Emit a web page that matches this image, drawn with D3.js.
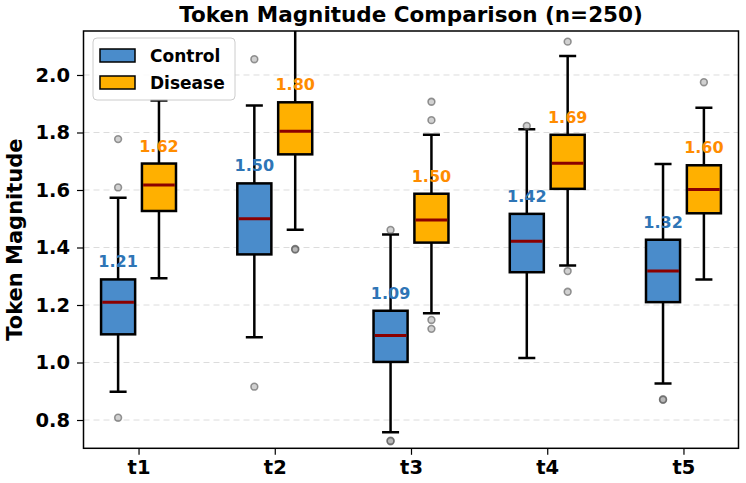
<!DOCTYPE html>
<html>
<head>
<meta charset="utf-8">
<script src="https://cdn.jsdelivr.net/npm/d3@7"></script>
<style>
  html, body { margin: 0; padding: 0; background: #fff; }
  svg { display: block; font-family: "DejaVu Sans", sans-serif; }
</style>
</head>
<body>
<svg id="chart" width="746" height="483"></svg>
<script>
// ---------- data ----------
const categories = ["t1", "t2", "t3", "t4", "t5"];
const seriesNames = ["Control", "Disease"];

const controlWhiskerLow  = [0.898, 1.088, 0.757, 1.016, 0.927];
const controlQ1          = [1.098, 1.376, 1.002, 1.314, 1.210];
const controlMedian      = [1.210, 1.500, 1.094, 1.422, 1.318];
const controlQ3          = [1.289, 1.623, 1.180, 1.517, 1.427];
const controlWhiskerHigh = [1.573, 1.894, 1.445, 1.811, 1.690];
const controlOutliers    = [[0.808, 1.609, 1.777], [0.916, 2.055], [0.726, 0.728, 1.461], [1.823], [0.870, 0.872]];

const diseaseWhiskerLow  = [1.293, 1.462, 1.171, 1.337, 1.289];
const diseaseQ1          = [1.527, 1.724, 1.417, 1.604, 1.519];
const diseaseMedian      = [1.617, 1.804, 1.496, 1.693, 1.602];
const diseaseQ3          = [1.692, 1.905, 1.587, 1.792, 1.686];
const diseaseWhiskerHigh = [1.911, 2.230, 1.792, 2.066, 1.886];
const diseaseOutliers    = [[], [1.395, 1.393], [1.117, 1.148, 1.843, 1.907], [1.246, 1.318, 2.116], [1.975]];

const yTicks = [0.8, 1.0, 1.2, 1.4, 1.6, 1.8, 2.0];

// ---------- layout ----------
const W = 746, H = 483;
const plot = { left: 83.5, right: 738.5, top: 31, bottom: 448.3 };
const FONT = "DejaVu Sans, sans-serif";

const x = d3.scaleLinear().domain([-0.404, 4.404]).range([plot.left, plot.right]);
const y = d3.scaleLinear().domain([0.7016, 2.153]).range([plot.bottom, plot.top]);

const offset = 0.15, boxW = 0.25, capW = 0.125;

const series = [
  { name: seriesNames[0], fill: "#4a8ccb", label: "#2e75b6",
    lo: controlWhiskerLow, q1: controlQ1, med: controlMedian, q3: controlQ3, hi: controlWhiskerHigh, out: controlOutliers, dx: -offset },
  { name: seriesNames[1], fill: "#ffb000", label: "#ff8c00",
    lo: diseaseWhiskerLow, q1: diseaseQ1, med: diseaseMedian, q3: diseaseQ3, hi: diseaseWhiskerHigh, out: diseaseOutliers, dx: offset }
];

const svg = d3.select("#chart");
svg.append("rect").attr("width", W).attr("height", H).attr("fill", "#fff");

svg.append("defs").append("clipPath").attr("id", "clip")
  .append("rect").attr("x", plot.left).attr("y", plot.top)
  .attr("width", plot.right - plot.left).attr("height", plot.bottom - plot.top);

// grid
svg.append("g").selectAll("line").data(yTicks).join("line")
  .attr("x1", plot.left).attr("x2", plot.right)
  .attr("y1", d => y(d)).attr("y2", d => y(d))
  .attr("stroke", "#dcdcdc").attr("stroke-width", 1).attr("stroke-dasharray", "6,4");

const g = svg.append("g").attr("clip-path", "url(#clip)");

series.forEach(s => {
  const sg = g.append("g");
  categories.forEach((c, i) => {
    const cx = x(i + s.dx);
    const bx0 = x(i + s.dx - boxW / 2), bx1 = x(i + s.dx + boxW / 2);
    const cx0 = x(i + s.dx - capW / 2), cx1 = x(i + s.dx + capW / 2);
    const line = (x1, y1, x2, y2) => sg.append("line")
      .attr("x1", x1).attr("y1", y1).attr("x2", x2).attr("y2", y2)
      .attr("stroke", "#000").attr("stroke-width", 2.5);
    line(cx, y(s.q1[i]), cx, y(s.lo[i]));
    line(cx, y(s.q3[i]), cx, y(s.hi[i]));
    line(cx0, y(s.lo[i]), cx1, y(s.lo[i]));
    line(cx0, y(s.hi[i]), cx1, y(s.hi[i]));
    sg.append("rect").attr("x", bx0).attr("width", bx1 - bx0)
      .attr("y", y(s.q3[i])).attr("height", y(s.q1[i]) - y(s.q3[i]))
      .attr("fill", s.fill).attr("stroke", "#000").attr("stroke-width", 2.5);
    sg.append("line").attr("x1", bx0 + 1.2).attr("x2", bx1 - 1.2)
      .attr("y1", y(s.med[i])).attr("y2", y(s.med[i]))
      .attr("stroke", "#8b0000").attr("stroke-width", 3);
    s.out[i].forEach(v => {
      sg.append("circle").attr("cx", cx).attr("cy", y(v)).attr("r", 3.4)
        .attr("fill", "#999").attr("fill-opacity", 0.45)
        .attr("stroke", "#555").attr("stroke-opacity", 0.6).attr("stroke-width", 1.6);
    });
    // median label
    svg.append("text").attr("x", cx).attr("y", y(s.q3[i]) - 12)
      .attr("text-anchor", "middle").attr("font-family", FONT).attr("font-weight", "bold")
      .attr("font-size", 16).attr("fill", s.label)
      .text(s.med[i].toFixed(2));
  });
});

// axes
const yAxis = svg.append("g").attr("transform", `translate(${plot.left},0)`)
  .call(d3.axisLeft(y).tickValues(yTicks).tickFormat(d3.format(".1f")).tickSize(6.5).tickPadding(7));
const xAxis = svg.append("g").attr("transform", `translate(0,${plot.bottom})`)
  .call(d3.axisBottom(x).tickValues(d3.range(categories.length)).tickFormat(i => categories[i]).tickSize(6.5).tickPadding(5));
[yAxis, xAxis].forEach(a => {
  a.select(".domain").remove();
  a.selectAll(".tick line").attr("stroke", "#000").attr("stroke-width", 1.2);
  a.selectAll(".tick text").attr("font-family", FONT).attr("font-weight", "bold")
    .attr("font-size", 19.5).attr("fill", "#000");
});

// spines
svg.append("rect").attr("x", plot.left).attr("y", plot.top)
  .attr("width", plot.right - plot.left).attr("height", plot.bottom - plot.top)
  .attr("fill", "none").attr("stroke", "#000").attr("stroke-width", 1.5);

// title
svg.append("text").attr("x", (plot.left + plot.right) / 2).attr("y", 22)
  .attr("text-anchor", "middle").attr("font-family", FONT).attr("font-weight", "bold")
  .attr("font-size", 21.5).text("Token Magnitude Comparison (n=250)");

// y label
svg.append("text").attr("transform", `translate(22,${(plot.top + plot.bottom) / 2}) rotate(-90)`)
  .attr("text-anchor", "middle").attr("font-family", FONT).attr("font-weight", "bold")
  .attr("font-size", 21).text("Token Magnitude");

// legend
const lg = svg.append("g");
lg.append("rect").attr("x", 93).attr("y", 38).attr("width", 142).attr("height", 62).attr("rx", 4)
  .attr("fill", "#fff").attr("fill-opacity", 0.85).attr("stroke", "#ccc").attr("stroke-width", 1);
series.forEach((s, k) => {
  lg.append("rect").attr("x", 100).attr("y", 49 + k * 27).attr("width", 35).attr("height", 13)
    .attr("fill", s.fill).attr("stroke", "#000").attr("stroke-width", 1.5);
  lg.append("text").attr("x", 150).attr("y", 62 + k * 27)
    .attr("font-family", FONT).attr("font-weight", "bold").attr("font-size", 17)
    .text(s.name);
});
</script>
</body>
</html>
